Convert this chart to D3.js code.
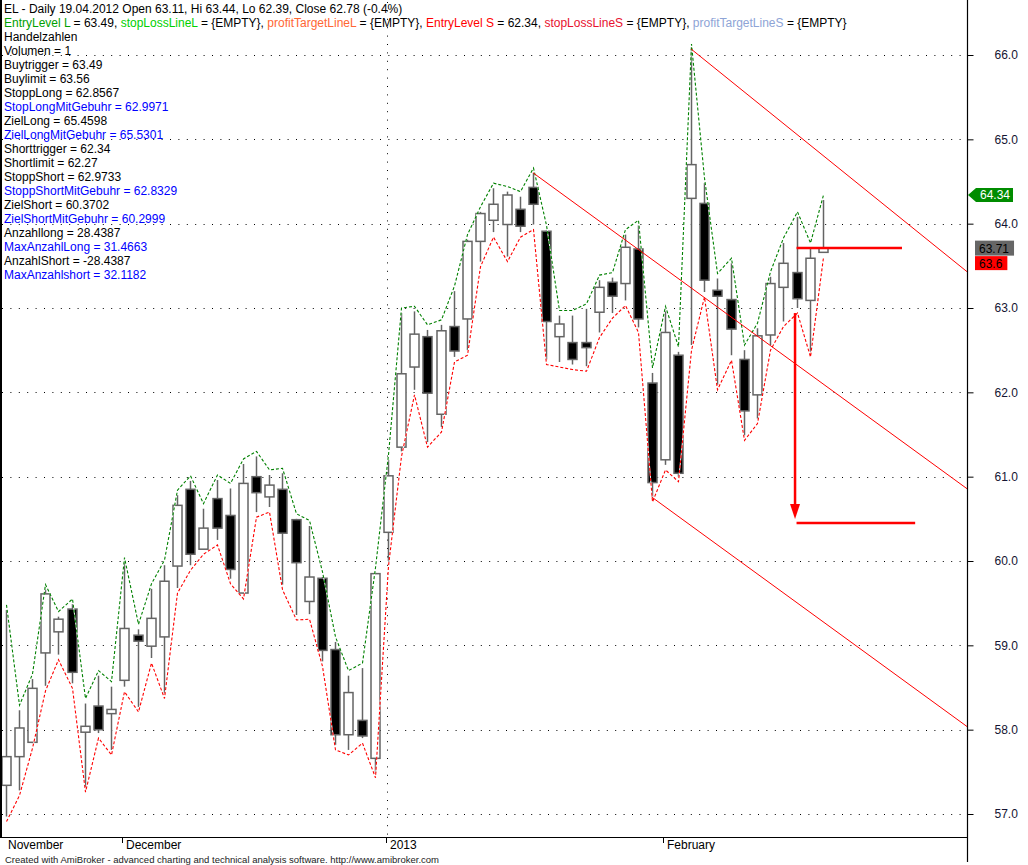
<!DOCTYPE html>
<html><head><meta charset="utf-8">
<script src="https://cdn.jsdelivr.net/npm/d3@7"></script>
<style>
body{margin:0;background:#fff}
svg{display:block}
text{font-family:"Liberation Sans",Arial,sans-serif}
</style>
</head><body>
<svg id="chart" width="1028" height="865"></svg>
<script>
// ---------- DATA ----------
const dates = ["2012-11-19","2012-11-20","2012-11-21","2012-11-23","2012-11-26","2012-11-27","2012-11-28","2012-11-29","2012-11-30",
"2012-12-03","2012-12-04","2012-12-05","2012-12-06","2012-12-07","2012-12-10","2012-12-11","2012-12-12","2012-12-13","2012-12-14",
"2012-12-17","2012-12-18","2012-12-19","2012-12-20","2012-12-21","2012-12-24","2012-12-26","2012-12-27","2012-12-28","2012-12-31",
"2013-01-02","2013-01-03","2013-01-04","2013-01-07","2013-01-08","2013-01-09","2013-01-10","2013-01-11","2013-01-14","2013-01-15",
"2013-01-16","2013-01-17","2013-01-18","2013-01-22","2013-01-23","2013-01-24","2013-01-25","2013-01-28","2013-01-29","2013-01-30",
"2013-01-31","2013-02-01","2013-02-04","2013-02-05","2013-02-06","2013-02-07","2013-02-08","2013-02-11","2013-02-12","2013-02-13",
"2013-02-14","2013-02-15","2013-02-19","2013-02-20"];

const openP  = [57.34,57.68,57.85,58.91,59.16,59.43,57.97,58.28,58.19,58.585,59.12,58.99,59.10,59.94,60.85,60.14,60.74,60.54,59.62,61.00,60.76,60.85,60.49,59.52,59.795,58.95,57.94,58.11,57.66,60.34,61.35,62.30,62.66,61.74,62.78,62.87,63.79,64.04,63.99,64.17,64.43,63.91,62.66,62.59,62.59,62.95,63.305,63.29,63.70,62.11,61.20,62.44,64.30,64.24,63.21,63.10,62.39,61.97,62.68,63.245,63.42,63.09,63.66];
const highP  = [59.42,58.23,58.60,59.66,59.34,59.49,58.31,58.64,58.51,59.98,59.19,59.67,59.95,60.78,60.95,60.62,60.96,60.86,61.15,61.24,61.02,61.04,60.50,60.415,59.81,59.04,58.64,58.73,59.86,61.20,62.94,62.96,62.74,62.80,63.20,63.81,64.14,64.42,64.38,64.32,64.60,63.92,62.91,62.91,62.99,63.33,63.36,63.87,63.98,62.23,62.96,62.48,66.07,64.48,63.35,63.53,62.50,62.76,63.37,63.77,64.08,63.71,64.28];
const lowP   = [56.97,57.28,57.84,58.52,58.89,58.55,57.32,57.96,57.76,58.51,58.27,58.85,58.43,59.68,59.95,60.14,60.25,59.79,59.61,60.58,60.64,59.72,59.36,59.37,58.81,57.82,57.76,57.90,57.49,60.00,61.30,62.03,61.41,61.59,62.42,62.50,63.55,63.90,63.61,63.90,63.99,62.39,62.36,62.33,62.31,62.71,62.94,63.09,62.77,60.76,61.14,61.00,62.56,63.19,62.09,62.44,61.49,61.69,62.56,62.84,63.00,62.48,63.66];
const closeP = [57.68,58.02,58.49,59.61,59.31,58.68,58.04,58.00,58.24,59.20,59.05,59.32,59.76,60.66,60.08,60.39,60.39,59.90,60.92,60.81,60.90,60.33,59.98,59.81,58.94,57.94,58.44,57.925,59.85,61.01,62.22,62.69,61.99,62.73,62.49,63.79,64.12,64.23,64.34,63.97,64.23,62.84,62.81,62.39,62.53,63.245,63.14,63.72,62.87,60.93,62.71,61.04,64.70,63.33,63.14,62.75,61.78,62.67,63.29,63.53,63.11,63.59,63.71];

// green dashed (upper) and red dashed (lower) lines
const upperLine = [59.48,58.29,58.66,59.72,59.40,59.55,58.37,58.70,58.57,60.04,59.25,59.73,60.01,60.84,61.01,60.68,61.02,60.92,61.21,61.30,61.08,61.10,60.56,60.48,59.87,59.10,58.70,58.79,59.92,61.26,63.00,63.02,62.80,62.86,63.26,63.87,64.20,64.48,64.44,64.38,64.66,63.98,62.97,62.97,63.05,63.39,63.42,63.93,64.04,62.29,63.02,62.54,66.13,64.54,63.41,63.59,62.56,62.82,63.43,63.83,64.14,63.77,64.34];
const lowerLine = [56.91,57.22,57.78,58.46,58.83,58.49,57.26,57.90,57.70,58.45,58.21,58.79,58.37,59.62,59.89,60.08,60.19,59.73,59.55,60.52,60.58,59.66,59.30,59.31,58.75,57.76,57.70,57.84,57.43,59.94,61.24,61.97,61.35,61.53,62.36,62.44,63.49,63.84,63.55,63.84,63.93,62.33,62.30,62.27,62.25,62.65,62.88,63.03,62.71,60.70,61.08,60.94,62.50,63.13,62.03,62.38,61.43,61.63,62.50,62.78,62.94,62.42,63.60];

// trend lines: [startIndex, startValue, endIndex, endValue]
const trendLines = [[40,64.604,75,60.622],[52,66.071,75,63.17],[49,60.76,75,57.802]];
// thick red target lines: [fromIndex, toIndex, value]
const targetLines = [[60,68,63.71],[60,69,60.45]];
// thick red arrow: [index, fromValue, toValue]
const arrowLine = [60,62.94,60.45];

const yTicks = [57,58,59,60,61,62,63,64,65,66];
const monthNames = {"2012-11":"November","2012-12":"December","2013-01":"2013","2013-02":"February"};

const titleLine = "EL - Daily 19.04.2012 Open 63.11, Hi 63.44, Lo 62.39, Close 62.78 (-0.4%)";
const legendParts = [["EntryLevel L","#00a000"],[" = 63.49, ","#000"],["stopLossLineL","#00d000"],[" = {EMPTY}, ","#000"],
  ["profitTargetLineL","#ff6633"],[" = {EMPTY}, ","#000"],["EntryLevel S","#ff0000"],[" = 62.34, ","#000"],
  ["stopLossLineS","#e8102e"],[" = {EMPTY}, ","#000"],["profitTargetLineS","#8ea4d6"],[" = {EMPTY}","#000"]];
const infoLines = [["Handelzahlen","#000"],["Volumen = 1","#000"],["Buytrigger = 63.49","#000"],["Buylimit = 63.56","#000"],
  ["StoppLong = 62.8567","#000"],["StopLongMitGebuhr = 62.9971","#0000ff"],["ZielLong = 65.4598","#000"],
  ["ZielLongMitGebuhr = 65.5301","#0000ff"],["Shorttrigger = 62.34","#000"],["Shortlimit = 62.27","#000"],
  ["StoppShort = 62.9733","#000"],["StoppShortMitGebuhr = 62.8329","#0000ff"],["ZielShort = 60.3702","#000"],
  ["ZielShortMitGebuhr = 60.2999","#0000ff"],["Anzahllong = 28.4387","#000"],["MaxAnzahlLong = 31.4663","#0000ff"],
  ["AnzahlShort = -28.4387","#000"],["MaxAnzahlshort = 32.1182","#0000ff"]];
const footer = "Created with AmiBroker - advanced charting and technical analysis software. http://www.amibroker.com";

// ---------- LAYOUT ----------
const plotRight = 967, plotBottom = 837;
const svg = d3.select("#chart");
const x = d3.scaleLinear().domain([0, 62]).range([5.7, 822.9]);
const y = d3.scaleLinear().domain([57, 66]).range([814, 55]);
const idx = d3.range(dates.length);

svg.append("defs").append("clipPath").attr("id","plotClip")
  .append("rect").attr("x",0).attr("y",0).attr("width",plotRight).attr("height",plotBottom);

// grid
const grid = svg.append("g");
yTicks.forEach(v => {
  const yy = Math.round(y(v)) + 0.5;
  grid.append("line").attr("x1",2).attr("x2",plotRight-2).attr("y1",yy).attr("y2",yy)
    .attr("stroke","#000").attr("stroke-width",1).attr("stroke-dasharray","1,7.4");
});
// month starts
const monthStarts = idx.filter(i => i === 0 || dates[i].slice(0,7) !== dates[i-1].slice(0,7));
monthStarts.filter(i => i > 0 && dates[i].slice(0,4) !== dates[i-1].slice(0,4)).forEach(i => {
  const xx = Math.round(x(i)) - 0.5;
  grid.append("line").attr("x1",xx).attr("x2",xx).attr("y1",2).attr("y2",plotBottom)
    .attr("stroke","#000").attr("stroke-width",1).attr("stroke-dasharray","1,7.4");
});

const plot = svg.append("g").attr("clip-path","url(#plotClip)");

// candles
const candles = plot.append("g");
idx.forEach(i => {
  const cx = Math.round(x(i)) + 0.5;
  const up = closeP[i] >= openP[i];
  candles.append("line").attr("x1",cx).attr("x2",cx).attr("y1",y(highP[i])).attr("y2",y(lowP[i]))
    .attr("stroke","#646464").attr("stroke-width",1.5);
  const top = y(Math.max(openP[i], closeP[i])), bot = y(Math.min(openP[i], closeP[i]));
  candles.append("rect").attr("x",cx-4.5).attr("width",9).attr("y",top).attr("height",Math.max(bot-top,1))
    .attr("fill", up ? "#fff" : "#000").attr("stroke","#646464").attr("stroke-width",1.5);
});

// dashed lines (GDI style: opaque gaps)
const lineGen = d3.line().x(i => Math.round(x(i)) + 0.5);
function dashed(arr, color) {
  const g = lineGen.y(i => y(arr[i]));
  plot.append("path").attr("d", g(idx)).attr("fill","none").attr("stroke","#fff").attr("stroke-width",1);
  plot.append("path").attr("d", g(idx)).attr("fill","none").attr("stroke",color).attr("stroke-width",1.1)
    .attr("stroke-dasharray","3,2");
}
dashed(upperLine, "#008000");
dashed(lowerLine, "#ff0000");

// trend lines
trendLines.forEach(t => {
  plot.append("line").attr("x1",x(t[0])).attr("y1",y(t[1])).attr("x2",x(t[2])).attr("y2",y(t[3]))
    .attr("stroke","#ff0000").attr("stroke-width",1);
});
// target lines
targetLines.forEach(t => {
  plot.append("line").attr("x1",x(t[0])).attr("x2",x(t[1])).attr("y1",y(t[2])).attr("y2",y(t[2]))
    .attr("stroke","#ff0000").attr("stroke-width",2.5);
});
// arrow
{
  const ax = x(arrowLine[0]) - 1.5, y0 = y(arrowLine[1]), y1 = y(arrowLine[2]) - 4;
  plot.append("line").attr("x1",ax).attr("x2",ax).attr("y1",y0).attr("y2",y1-10)
    .attr("stroke","#ff0000").attr("stroke-width",2.5);
  plot.append("path").attr("d",`M${ax-5},${y1-15}L${ax+5},${y1-15}L${ax},${y1}Z`).attr("fill","#ff0000");
}

// frame / axes
svg.append("line").attr("x1",1).attr("x2",1).attr("y1",0).attr("y2",plotBottom).attr("stroke","#000").attr("stroke-width",2);
svg.append("line").attr("x1",0).attr("x2",plotRight).attr("y1",plotBottom+0.5).attr("y2",plotBottom+0.5).attr("stroke","#000").attr("stroke-width",1);
svg.append("line").attr("x1",plotRight+0.5).attr("x2",plotRight+0.5).attr("y1",0).attr("y2",862).attr("stroke","#000").attr("stroke-width",1.2);

// y axis
const yAxis = svg.append("g").attr("transform",`translate(${plotRight+0.5},0)`)
  .call(d3.axisRight(y).tickValues(yTicks).tickSize(6).tickPadding(21).tickFormat(d3.format(".1f")));
yAxis.select(".domain").remove();
yAxis.selectAll(".tick line").attr("stroke","#000");
yAxis.selectAll(".tick text").attr("font-size",12).attr("fill","#141432").style("font-family","'Liberation Sans',Arial,sans-serif");

// x axis (months)
const xAxis = svg.append("g").attr("transform",`translate(0,${plotBottom})`)
  .call(d3.axisBottom(x).tickValues(monthStarts).tickSize(6).tickFormat(i => monthNames[dates[i].slice(0,7)]));
xAxis.select(".domain").remove();
xAxis.selectAll(".tick").attr("transform", i => `translate(${Math.round(x(i)) - 1.5},0)`);
xAxis.selectAll(".tick line").attr("stroke","#000").attr("opacity", i => i === 0 ? 0 : 1);
xAxis.selectAll(".tick text").attr("text-anchor","start").attr("x",3.5).attr("y",0).attr("dy","11.5")
  .attr("font-size",12).attr("fill","#000").style("font-family","'Liberation Sans',Arial,sans-serif");

// right-side value labels
const lastI = dates.length - 1;
{
  const gy = y(upperLine[lastI]);
  svg.append("path").attr("d",`M968,${gy}L976,${gy-7}L1013,${gy-7}L1013,${gy+7}L976,${gy+7}Z`).attr("fill","#008c00");
  svg.append("text").attr("x",980).attr("y",gy+4.5).attr("font-size",12).attr("fill","#fff").text(upperLine[lastI].toFixed(2));
  const cy = y(closeP[lastI]);
  const ct = svg.append("text").attr("x",979).attr("y",cy+4.5).attr("font-size",12).attr("fill","#000").text(closeP[lastI].toFixed(2));
  const cw = ct.node().getComputedTextLength();
  svg.insert("rect", () => ct.node()).attr("x",975).attr("y",cy-7.5).attr("width",cw+9).attr("height",15).attr("fill","#666");
  const ry = Math.max(y(lowerLine[lastI]), cy + 15);
  const rt = svg.append("text").attr("x",979).attr("y",ry+4.5).attr("font-size",12).attr("fill","#000").text(String(+lowerLine[lastI].toFixed(2)));
  const rw = rt.node().getComputedTextLength();
  svg.insert("rect", () => rt.node()).attr("x",975).attr("y",ry-7).attr("width",rw+9).attr("height",14).attr("fill","#ff0000");
}

// header texts
const hdr = svg.append("g").attr("font-size",12);
hdr.append("text").attr("x",4).attr("y",12.5).attr("fill","#000").text(titleLine);
const leg = hdr.append("text").attr("x",4).attr("y",26.5);
legendParts.forEach(p => leg.append("tspan").attr("fill",p[1]).text(p[0]));
leg.style("white-space","pre");
infoLines.forEach((l, k) => {
  hdr.append("text").attr("x",4).attr("y",40.5 + 14*k).attr("fill",l[1]).text(l[0]);
});

// footer
svg.append("text").attr("x",5).attr("y",862.5).attr("font-size",9.5).attr("fill","#222").text(footer);
</script>
</body></html>
